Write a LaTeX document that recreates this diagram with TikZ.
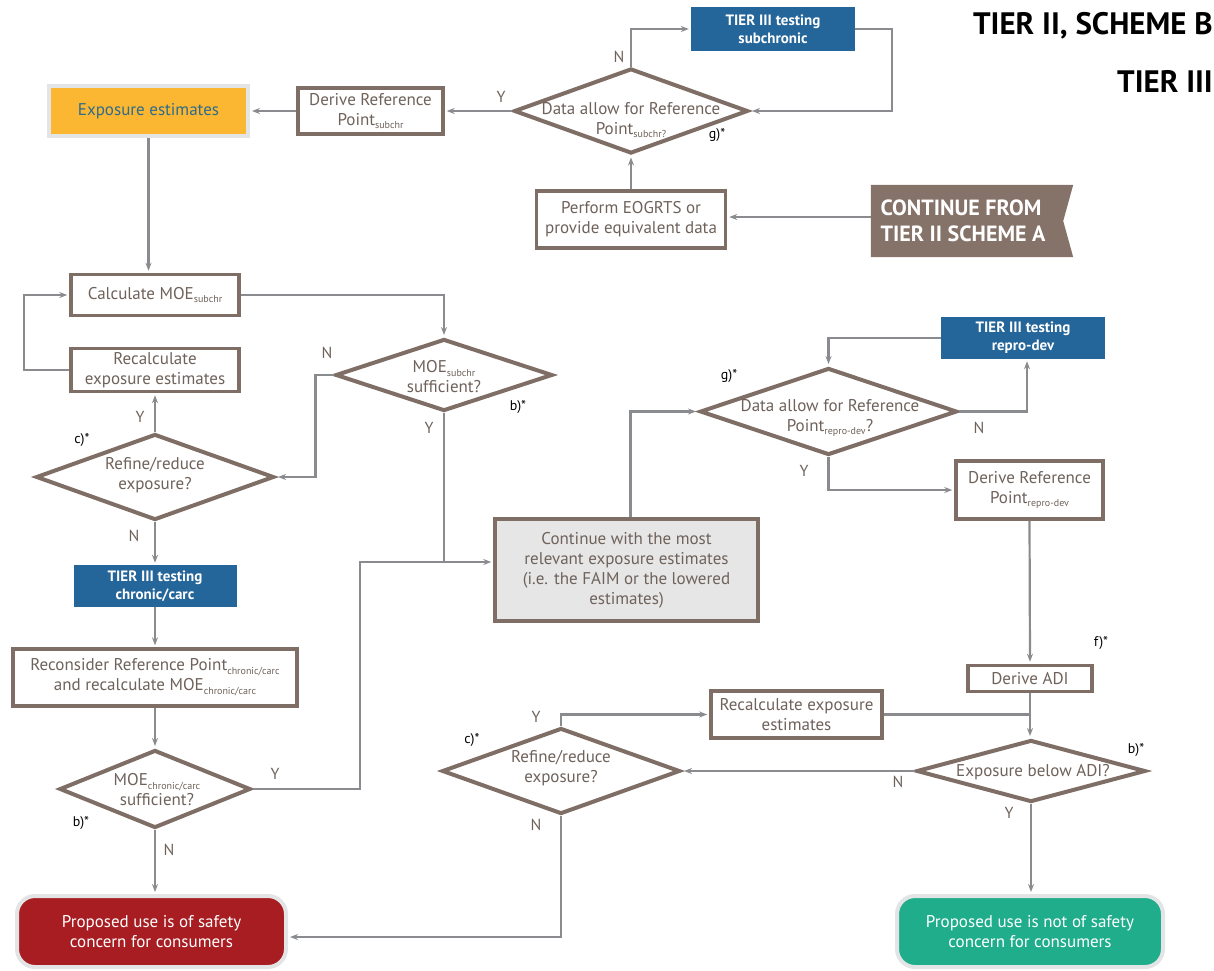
\documentclass[tikz,border=0pt]{standalone}
\usepackage{fontspec}
\setmainfont{PT Sans}
\usetikzlibrary{shapes.geometric,arrows.meta,backgrounds,calc}
\definecolor{brd}{HTML}{7F6E66}
\definecolor{txt}{HTML}{6F625B}
\definecolor{lin}{HTML}{898B8E}
\definecolor{tblue}{HTML}{24659A}
\definecolor{yel}{HTML}{FBB731}
\definecolor{expotxt}{HTML}{2E6B8C}
\definecolor{lgray}{HTML}{E3E4E5}
\definecolor{cgray}{HTML}{E6E6E6}
\definecolor{redf}{HTML}{A71D21}
\definecolor{greenf}{HTML}{1FAD8B}
\definecolor{banner}{HTML}{857268}
\newcommand\sbs[1]{\raisebox{-0.45ex}{\fontsize{10}{10}\selectfont #1}}
\tikzset{
  box/.style={draw=brd, line width=3.5pt, fill=white, text=txt, font=\fontsize{17}{20}\selectfont, align=center, inner sep=0pt},
  dia/.style={draw=brd, line width=4pt, shape=diamond, inner sep=0pt, fill=white},
  dtext/.style={text=txt, font=\fontsize{17}{20}\selectfont, align=center, inner sep=0pt},
  tbox/.style={fill=tblue, text=white, font=\bfseries\fontsize{15}{18}\selectfont, align=center, inner sep=0pt},
  endbox/.style={draw=lgray, line width=4pt, rounded corners=18pt, text=white, font=\fontsize{17}{20}\selectfont, align=center, inner sep=0pt},
  conn/.style={draw=lin, line width=2.2pt, -{Stealth[length=8pt,width=6pt]}, shorten >=2pt},
  plain/.style={draw=lin, line width=2.2pt},
  yn/.style={text=txt, font=\fontsize{16}{16}\selectfont, inner sep=0pt},
  note/.style={text=black, font=\fontsize{14}{14}\selectfont, inner sep=0pt},
  heading/.style={text=black, font=\bfseries\fontsize{31}{34}\selectfont, inner sep=0pt},
}
\begin{document}
\begin{tikzpicture}[x=1pt,y=-1pt]
\useasboundingbox (0,0) rectangle (1214,970);

% headings
\node[heading, anchor=east] (h1) at (1213,26) {TIER II, SCHEME B};
\node[heading, anchor=east] (h2) at (1213,81) {TIER III};

% top part
\node[draw=lgray, line width=4pt, fill=yel, minimum width=199, minimum height=50, text=expotxt, font=\fontsize{17}{20}\selectfont, inner sep=0pt] (expo) at (148.5,111) {Exposure estimates};
\node[box, minimum width=145, minimum height=46] (derive1) at (370.5,111) {Derive Reference\\Point\sbs{subchr}};
\node[dia, minimum width=234, minimum height=85] (d1) at (631,111) {};
\node[dtext] (d1t) at (631,120) {Data allow for Reference\\Point\sbs{subchr?}};
\node[tbox, minimum width=164, minimum height=44] (t3sub) at (773,29) {TIER III testing\\subchronic};
\node[box, minimum width=189, minimum height=57] (perform) at (631,219.5) {Perform EOGRTS or\\provide equivalent data};
\node[minimum width=202, minimum height=72, inner sep=0pt] (cont) at (972,221) {};
\node[text=white, font=\bfseries\fontsize{22}{26}\selectfont, align=left, inner sep=0pt] (contt) at (963,221) {CONTINUE FROM\\TIER II SCHEME A};
\begin{pgfonlayer}{background}
\fill[banner] (cont.north west) -- (cont.north east) -- ($(cont.east)+(-10,0)$) -- (cont.south east) -- (cont.south west) -- cycle;
\end{pgfonlayer}
\coordinate (contin) at ($(cont.west)+(0,-4)$);

% left column
\node[box, minimum width=168, minimum height=41] (calc) at (155,295) {Calculate MOE\sbs{subchr}};
\node[box, minimum width=168, minimum height=43] (recalc1) at (155,370) {Recalculate\\exposure estimates};
\node[dia, minimum width=217, minimum height=72] (moe1) at (444,375) {};
\node[dtext] (moe1t) at (444,377) {MOE\sbs{subchr}\\sufficient?};
\node[dia, minimum width=238, minimum height=86] (refine1) at (155,477) {};
\node[dtext] (refine1t) at (155,475) {Refine/reduce\\exposure?};
\node[tbox, minimum width=163, minimum height=42] (t3chr) at (155,586) {TIER III testing\\chronic/carc};
\node[box, minimum width=284, minimum height=57] (recons) at (155,677.5) {Reconsider Reference Point\sbs{chronic/carc}\\and recalculate MOE\sbs{chronic/carc}};
\node[dia, minimum width=191, minimum height=78] (moe2) at (155,789) {};
\node[dtext] (moe2t) at (157,790) {MOE\sbs{chronic/carc}\\sufficient?};
\node[endbox, fill=redf, minimum width=269, minimum height=71] (red) at (151.5,931.5) {Proposed use is of safety\\concern for consumers};

% middle / right
\node[box, fill=cgray, minimum width=263, minimum height=102] (cont2) at (626.5,570) {Continue with the most\\relevant exposure estimates\\(i.e. the FAIM or the lowered\\estimates)};
\node[tbox, minimum width=164, minimum height=42] (t3rep) at (1023,338) {TIER III testing\\repro-dev};
\node[dia, minimum width=257, minimum height=87] (d2) at (828.5,411.5) {};
\node[dtext] (d2t) at (830,418) {Data allow for Reference\\Point\sbs{repro-dev}?};
\node[box, minimum width=147, minimum height=58] (derive2) at (1029.5,490) {Derive Reference\\Point\sbs{repro-dev}};
\node[box, minimum width=124, minimum height=26] (adi) at (1030,678.5) {Derive ADI};
\node[box, minimum width=171, minimum height=47] (recalc2) at (796.5,714.5) {Recalculate exposure\\estimates};
\node[dia, minimum width=229, minimum height=62] (d3) at (1031,771) {};
\node[dtext] (d3t) at (1033,772) {Exposure below ADI?};
\node[dia, minimum width=238, minimum height=86] (refine2) at (561,771) {};
\node[dtext] (refine2t) at (561,768) {Refine/reduce\\exposure?};
\node[endbox, fill=greenf, minimum width=266, minimum height=71] (green) at (1030,931.5) {Proposed use is not of safety\\concern for consumers};

% junction
\coordinate (j2) at (360,562);
\coordinate (c2up) at ($(cont2.north)+(4,0)$);
\coordinate (t3repin) at ($(t3rep.south)+(4,0)$);
\coordinate (redin) at ($(red.east)+(0,5.5)$);

% connectors top
\draw[conn] (derive1.west) -- (derive1.west -| expo.east);
\draw[conn] (d1.west) -- (d1.west -| derive1.east);
\draw[conn] (d1.north) |- (t3sub.west);
\draw[conn] (t3sub.east) -- ++(37,0) |- (d1.east);
\draw[conn] (perform.north) -- (d1.south);
\draw[conn] (contin) -- (contin -| perform.east);
\draw[conn] (expo.south) -- (expo.south |- calc.north);

% left column connectors
\draw[conn] (recalc1.west) -- ++(-45,0) |- (calc.west);
\draw[conn] (calc.east) -| (moe1.north);
\draw[conn] (moe1.west) -- ++(-18,0) |- (refine1.east);
\draw[conn] (refine1.north) -- (recalc1.south);
\draw[conn] (refine1.south) -- (t3chr.north);
\draw[conn] (moe1.south) -- (moe1.south |- j2) -- (j2 -| cont2.west);
\draw[plain] (moe2.east) -| (j2) -- (moe1.south |- j2);
\draw[conn] (t3chr.south) -- (recons.north);
\draw[conn] (recons.south) -- (moe2.north);
\draw[conn] (moe2.south) -- (moe2.south |- red.north);

% right connectors
\draw[conn] (c2up) |- (d2.west);
\draw[conn] (t3rep.west) -| (d2.north);
\draw[conn] (d2.east) -| (t3repin);
\draw[conn] (d2.south) |- (derive2.west);
\draw[conn] (derive2.south) -- (adi.north);
\draw[conn] (adi.south) -- (adi.south |- d3.north);
\draw[conn] (refine2.north) |- (recalc2.west);
\draw[plain] (recalc2.east) -- (recalc2.east -| adi.south);
\draw[conn] (d3.west) -- (refine2.east);
\draw[conn] (d3.south) -- (d3.south |- green.north);
\draw[conn] (refine2.south) |- (redin);

% Y/N labels
\node[yn] (l1) at (501,97) {Y};
\node[yn] (l2) at (619,57) {N};
\node[yn] (l3) at (327,353) {N};
\node[yn] (l4) at (429,428) {Y};
\node[yn] (l5) at (140,417) {Y};
\node[yn] (l6) at (134,536) {N};
\node[yn] (l7) at (275,774) {Y};
\node[yn] (l8) at (169,850) {N};
\node[yn] (l9) at (979,428) {N};
\node[yn] (l10) at (804,471) {Y};
\node[yn] (l11) at (536,717) {Y};
\node[yn] (l12) at (536,825) {N};
\node[yn] (l13) at (898,782) {N};
\node[yn] (l14) at (1009,813) {Y};

% notes
\node[note] (n1) at (717,135) {g)*};
\node[note] (n2) at (518,407) {b)*};
\node[note] (n3) at (82,440) {c)*};
\node[note] (n4) at (81,823) {b)*};
\node[note] (n5) at (729,376) {g)*};
\node[note] (n6) at (1101,643) {f)*};
\node[note] (n7) at (472,740) {c)*};
\node[note] (n8) at (1136,750) {b)*};
\end{tikzpicture}
\end{document}
